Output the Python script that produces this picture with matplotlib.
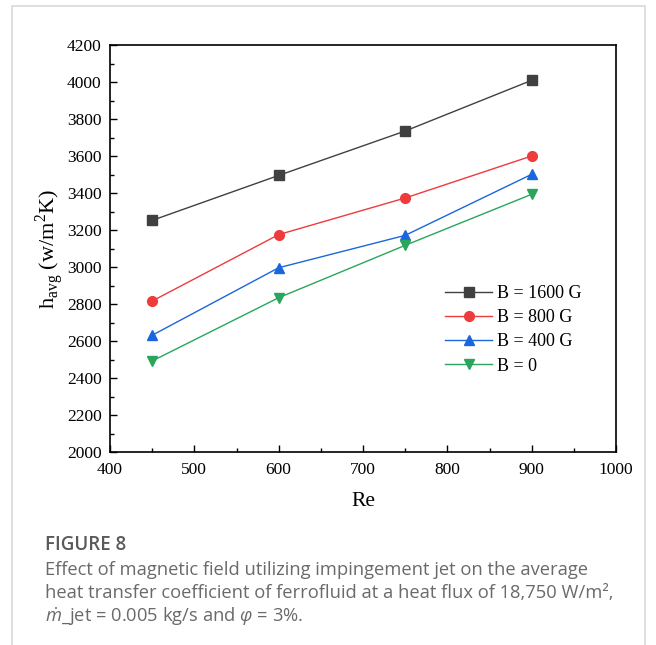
import matplotlib
matplotlib.use("Agg")
import matplotlib.pyplot as plt
from matplotlib.ticker import MultipleLocator, FuncFormatter
from matplotlib.patches import Rectangle

re_vals = [450, 600, 750, 900]
h_1600 = [3252, 3495, 3735, 4009]
h_800 = [2816, 3175, 3373, 3600]
h_400 = [2631, 2996, 3171, 3501]
h_0 = [2492, 2834, 3117, 3393]
labels = ["B = 1600 G", "B = 800 G", "B = 400 G", "B = 0"]

serif = "Liberation Serif"
plt.rcParams["font.family"] = [serif, "DejaVu Serif"]
plt.rcParams["axes.formatter.use_mathtext"] = False
plt.rcParams["mathtext.fontset"] = "custom"
plt.rcParams["mathtext.rm"] = "Liberation Serif"
plt.rcParams["mathtext.it"] = "Open Sans:italic"

W, H = 656, 645
fig = plt.figure(figsize=(W / 100, H / 100), dpi=100)

# card border
fig.patches.append(Rectangle((12 / W, -0.01), (645 - 12) / W, 1 - 6 / H + 0.01,
                             transform=fig.transFigure, fill=False,
                             edgecolor="#d9d9d9", linewidth=1.2))

ax = fig.add_axes([110 / W, 1 - 452 / H, (616 - 110) / W, (452 - 45) / H])

series = [
    (h_1600, "#404040", "s", 6.5),
    (h_800, "#ee3b3b", "o", 7),
    (h_400, "#1a66dd", "^", 7.5),
    (h_0, "#2aa55c", "v", 7.5),
]
for (vals, col, mk, ms), lab in zip(series, labels):
    ax.plot(re_vals, vals, color=col, marker=mk, markersize=ms, linewidth=1.0,
            label=lab)

ax.set_xlim(400, 1000)
ax.set_ylim(2000, 4200)
ax.xaxis.set_major_locator(MultipleLocator(100))
ax.xaxis.set_minor_locator(MultipleLocator(50))
ax.yaxis.set_major_locator(MultipleLocator(200))
ax.yaxis.set_minor_locator(MultipleLocator(100))
fmt = FuncFormatter(lambda v, p: f"{v:.0f}")
ax.xaxis.set_major_formatter(fmt)
ax.yaxis.set_major_formatter(fmt)
ax.tick_params(which="both", direction="in", top=False, right=False, width=1.0,
               labelsize=12.5, labelfontfamily=serif)
ax.tick_params(which="major", length=5)
ax.tick_params(which="minor", length=3)
ax.tick_params(axis="x", pad=7)
ax.tick_params(axis="y", pad=6)
for sp in ax.spines.values():
    sp.set_linewidth(1.2)

ax.set_xlabel("Re", fontsize=15.5, labelpad=10)
ax.set_ylabel(r"h$_{\mathregular{avg}}$ (w/m$^{\mathregular{2}}$K)", fontsize=16,
              labelpad=1)

leg = ax.legend(loc="lower right", bbox_to_anchor=(0.965, 0.15), frameon=False,
                prop={"family": serif, "size": 13}, handlelength=2.6,
                handletextpad=0.3, labelspacing=0.4)

cap_font = "Open Sans"
fig.text(45 / W, 1 - 545 / H, "FIGURE 8", fontfamily=cap_font, fontsize=13.5,
         fontweight="semibold", color="#5a5a5a", va="center")
cap_lines = [
    "Effect of magnetic field utilizing impingement jet on the average",
    "heat transfer coefficient of ferrofluid at a heat flux of 18,750 W/m²,",
    r"$\dot{m}$_jet = 0.005 kg/s and $\varphi$ = 3%.",
]
for i, line in enumerate(cap_lines):
    fig.text(45 / W, 1 - (570 + 23.5 * i) / H, line, fontfamily=cap_font,
             fontsize=13.2, color="#6a6a6a", va="center")

fig.savefig("out.png", dpi=100)
